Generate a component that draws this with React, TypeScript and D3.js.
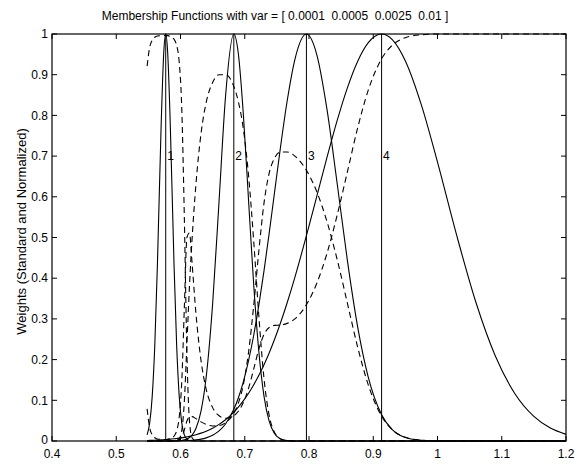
import React from "react";
import * as d3 from "d3";

// ---------- data ----------
const titleText = "Membership Functions with var = [ 0.0001  0.0005  0.0025  0.01 ]";
const yLabelText = "Weights (Standard and Normalized)";

const centers = [0.577, 0.683, 0.796, 0.913];
const centerLabels = ["1", "2", "3", "4"];
const centerLabelLevel = 0.7;

const xTicks = [0.4, 0.5, 0.6, 0.7, 0.8, 0.9, 1.0, 1.1, 1.2];
const xTickLabels = ["0.4", "0.5", "0.6", "0.7", "0.8", "0.9", "1", "1.1", "1.2"];
const yTicks = [0, 0.1, 0.2, 0.3, 0.4, 0.5, 0.6, 0.7, 0.8, 0.9, 1.0];
const yTickLabels = ["0", "0.1", "0.2", "0.3", "0.4", "0.5", "0.6", "0.7", "0.8", "0.9", "1"];

const xGrid = [
  0.548, 0.552, 0.556, 0.56, 0.564, 0.57, 0.574, 0.577, 0.58, 0.584, 0.59, 0.594, 0.598, 0.602,
  0.606, 0.61, 0.614, 0.618, 0.624, 0.632, 0.64, 0.65, 0.66, 0.67, 0.683, 0.69, 0.698, 0.706,
  0.714, 0.722, 0.73, 0.738, 0.746, 0.756, 0.766, 0.778, 0.796, 0.812, 0.828, 0.844, 0.86,
  0.876, 0.892, 0.913, 0.93, 0.95, 0.975, 1.0, 1.03, 1.06, 1.09, 1.12, 1.15, 1.175, 1.2,
];

// standard (solid) membership values
const standard1 = [
  0.0149, 0.0439, 0.1103, 0.2357, 0.4296, 0.7827, 0.956, 1, 0.956, 0.7827, 0.4296, 0.2357, 0.1103, 0.0439,
  0.0149, 0.0043, 0.0011, 0.0002, 0, 0, 0, 0, 0, 0, 0, 0, 0, 0,
  0, 0, 0, 0, 0, 0, 0, 0, 0, 0, 0, 0, 0,
  0, 0, 0, 0, 0, 0, 0, 0, 0, 0, 0, 0, 0, 0,
];
const standard2 = [
  0, 0, 0, 0, 0, 0, 0, 0, 0, 0.0001, 0.0002, 0.0004, 0.0007, 0.0014,
  0.0027, 0.0049, 0.0086, 0.0146, 0.0308, 0.0742, 0.1574, 0.3366, 0.5892, 0.8445, 1, 0.9522, 0.7985, 0.5892,
  0.3825, 0.2185, 0.1098, 0.0486, 0.0189, 0.0049, 0.001, 0.0001, 0, 0, 0, 0, 0,
  0, 0, 0, 0, 0, 0, 0, 0, 0, 0, 0, 0, 0, 0,
];
const standard3 = [
  0, 0, 0, 0, 0, 0, 0, 0.0001, 0.0001, 0.0001, 0.0002, 0.0003, 0.0004, 0.0005,
  0.0007, 0.001, 0.0013, 0.0018, 0.0027, 0.0046, 0.0077, 0.0141, 0.0247, 0.0418, 0.0778, 0.1057, 0.1465, 0.1979,
  0.2605, 0.3345, 0.4185, 0.5102, 0.6065, 0.7262, 0.8353, 0.9373, 1, 0.9501, 0.8148, 0.6308, 0.4408,
  0.278, 0.1583, 0.0647, 0.0276, 0.0087, 0.0017, 0.0002, 0, 0, 0, 0, 0, 0, 0,
];
const standard4 = [
  0.0013, 0.0015, 0.0017, 0.002, 0.0023, 0.0028, 0.0032, 0.0035, 0.0039, 0.0045, 0.0054, 0.0062, 0.007, 0.0079,
  0.009, 0.0102, 0.0114, 0.0129, 0.0154, 0.0193, 0.0241, 0.0315, 0.0408, 0.0522, 0.071, 0.0832, 0.0992, 0.1174,
  0.1381, 0.1614, 0.1875, 0.2163, 0.2481, 0.2917, 0.3396, 0.4021, 0.5046, 0.6005, 0.6969, 0.7882, 0.8689,
  0.9338, 0.9782, 1, 0.9857, 0.9338, 0.8251, 0.6851, 0.5046, 0.3396, 0.2089, 0.1174, 0.0603, 0.0323, 0.0163,
];

// normalized (dashed) membership values
const normalized1 = [
  0.921, 0.967, 0.985, 0.992, 0.995, 0.996, 0.997, 0.996, 0.996, 0.994, 0.987, 0.972, 0.931, 0.816,
  0.547, 0.213, 0.048, 0.008, 0, 0, 0, 0, 0, 0, 0, 0, 0, 0,
  0, 0, 0, 0, 0, 0, 0, 0, 0, 0, 0, 0, 0,
  0, 0, 0, 0, 0, 0, 0, 0, 0, 0, 0, 0, 0, 0,
];
const normalized2 = [
  0, 0, 0, 0, 0, 0, 0, 0, 0, 0, 0.0004, 0.0015, 0.006, 0.026,
  0.098, 0.239, 0.382, 0.496, 0.63, 0.756, 0.832, 0.881, 0.9, 0.9, 0.871, 0.834, 0.765, 0.651,
  0.49, 0.306, 0.153, 0.063, 0.022, 0.005, 0.001, 0, 0, 0, 0, 0, 0,
  0, 0, 0, 0, 0, 0, 0, 0, 0, 0, 0, 0, 0, 0,
];
const normalized3 = [
  0.0003, 0.0001, 0, 0, 0, 0, 0, 0.0001, 0.0001, 0.0002, 0.0005, 0.0012, 0.003, 0.01,
  0.027, 0.049, 0.059, 0.06, 0.055, 0.047, 0.041, 0.037, 0.038, 0.045, 0.068, 0.093, 0.14, 0.219,
  0.334, 0.468, 0.585, 0.658, 0.694, 0.71, 0.71, 0.7, 0.665, 0.613, 0.539, 0.445, 0.337,
  0.229, 0.139, 0.061, 0.027, 0.009, 0.002, 0, 0, 0, 0, 0, 0, 0, 0,
];
const normalized4 = [
  0.079, 0.033, 0.015, 0.008, 0.005, 0.004, 0.003, 0.0035, 0.004, 0.006, 0.012, 0.025, 0.059, 0.147,
  0.329, 0.5, 0.511, 0.437, 0.314, 0.197, 0.127, 0.082, 0.062, 0.056, 0.062, 0.073, 0.095, 0.13,
  0.177, 0.226, 0.262, 0.279, 0.284, 0.285, 0.289, 0.3, 0.335, 0.387, 0.461, 0.556, 0.663,
  0.771, 0.861, 0.939, 0.973, 0.991, 0.998, 1, 1, 1, 1, 1, 1, 1, 1,
];

const standardSeries = [standard1, standard2, standard3, standard4];
const normalizedSeries = [normalized1, normalized2, normalized3, normalized4];

// ---------- layout ----------
const W = 577;
const H = 464;
const PLOT_LEFT = 52;
const PLOT_RIGHT = 566;
const PLOT_TOP = 34;
const PLOT_BOTTOM = 441;
const TICK = 5;
const FONT = "'Liberation Sans', Arial, Helvetica, sans-serif";

export default function App() {
  const x = d3.scaleLinear().domain([0.4, 1.2]).range([PLOT_LEFT, PLOT_RIGHT]);
  const y = d3.scaleLinear().domain([0, 1]).range([PLOT_BOTTOM, PLOT_TOP]);

  const line = d3
    .line<number>()
    .x((_, i) => x(xGrid[i]))
    .y((d) => y(d))
    .curve(d3.curveMonotoneX);

  return (
    <svg
      width={W}
      height={H}
      style={{ position: "fixed", left: 0, top: 0, background: "#fff" }}
      fontFamily={FONT}
    >
      <rect x={0} y={0} width={W} height={H} fill="#fff" />

      {/* center lines */}
      {centers.map((c, i) => (
        <line key={"c" + i} x1={x(c)} x2={x(c)} y1={y(0)} y2={y(1)} stroke="#000" strokeWidth={1} />
      ))}

      {/* standard curves */}
      {standardSeries.map((s, i) => (
        <path key={"s" + i} d={line(s) || ""} fill="none" stroke="#000" strokeWidth={1.1} />
      ))}

      {/* normalized curves */}
      {normalizedSeries.map((s, i) => (
        <path
          key={"n" + i}
          d={line(s) || ""}
          fill="none"
          stroke="#000"
          strokeWidth={1.1}
          strokeDasharray="6,4"
        />
      ))}

      {/* center labels */}
      {centers.map((c, i) => (
        <text key={"l" + i} x={x(c) + 1.5} y={y(centerLabelLevel)} dy="0.35em" fontSize={12} fill="#000">
          {centerLabels[i]}
        </text>
      ))}

      {/* box */}
      <rect
        x={PLOT_LEFT}
        y={PLOT_TOP}
        width={PLOT_RIGHT - PLOT_LEFT}
        height={PLOT_BOTTOM - PLOT_TOP}
        fill="none"
        stroke="#000"
        strokeWidth={1.2}
      />

      {/* x ticks */}
      {xTicks.map((t, i) => (
        <g key={"xt" + i}>
          <line x1={x(t)} x2={x(t)} y1={PLOT_BOTTOM} y2={PLOT_BOTTOM - TICK} stroke="#000" />
          <line x1={x(t)} x2={x(t)} y1={PLOT_TOP} y2={PLOT_TOP + TICK} stroke="#000" />
          <text x={x(t)} y={PLOT_BOTTOM + 17} textAnchor="middle" fontSize={12} fill="#000">
            {xTickLabels[i]}
          </text>
        </g>
      ))}

      {/* y ticks */}
      {yTicks.map((t, i) => (
        <g key={"yt" + i}>
          <line x1={PLOT_LEFT} x2={PLOT_LEFT + TICK} y1={y(t)} y2={y(t)} stroke="#000" />
          <line x1={PLOT_RIGHT} x2={PLOT_RIGHT - TICK} y1={y(t)} y2={y(t)} stroke="#000" />
          <text x={PLOT_LEFT - 4} y={y(t)} dy={i === 0 ? "0.25em" : "0.35em"} textAnchor="end" fontSize={12} fill="#000">
            {yTickLabels[i]}
          </text>
        </g>
      ))}

      {/* title */}
      <text x={275} y={20} textAnchor="middle" fontSize={12} fill="#000" style={{ whiteSpace: "pre" }} xmlSpace="preserve">
        {titleText}
      </text>

      {/* y label */}
      <text
        transform={`translate(26, ${(125 + 338) / 2}) rotate(-90)`}
        textAnchor="middle"
        fontSize={13}
        fill="#000"
      >
        {yLabelText}
      </text>
    </svg>
  );
}
